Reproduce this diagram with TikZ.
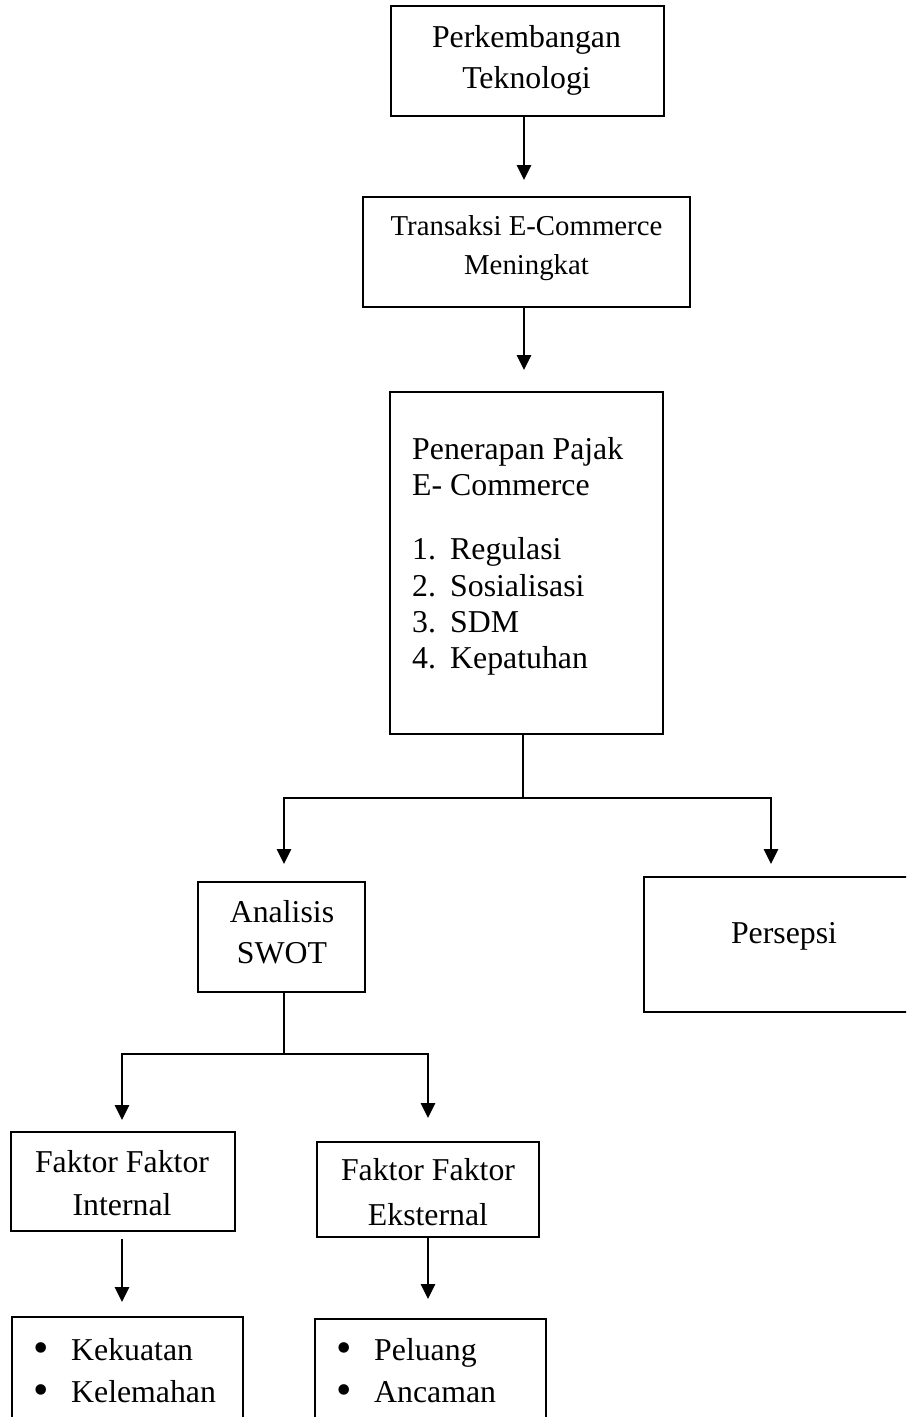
\documentclass[tikz,border=0pt]{standalone}
\usepackage{fontspec}
\setmainfont{Liberation Serif}
\usetikzlibrary{arrows.meta}
\begin{document}
\begin{tikzpicture}[x=1pt,y=-1pt,
  box/.style={draw, line width=2.7pt, inner sep=0pt, outer sep=0pt},
  txt/.style={inner sep=0pt, anchor=base, font=\fontsize{31.8}{36}\selectfont},
  stxt/.style={inner sep=0pt, anchor=base, font=\fontsize{28.8}{33}\selectfont},
  ltxt/.style={inner sep=0pt, anchor=base west, font=\fontsize{31.8}{36}\selectfont},
  bul/.style={inner sep=0pt, anchor=base, font=\fontsize{44}{48}\selectfont},
  ln/.style={line width=2.7pt},
  arr/.style={line width=2.7pt, -{Triangle[length=15pt,width=14pt]}}]
\useasboundingbox (0,0) rectangle (906,1417);
\clip (0,0) rectangle (906,1417);
\fill[white] (0,0) rectangle (906,1417);

% boxes
\node[box, minimum width=273pt, minimum height=110pt] (b1) at (527.5,61) {};
\node[box, minimum width=327pt, minimum height=110pt] (b2) at (526.5,252) {};
\node[box, minimum width=273pt, minimum height=342pt] (b3) at (526.5,563) {};
\node[box, minimum width=167pt, minimum height=110pt] (swot) at (281.5,937) {};
\node[box, minimum width=276pt, minimum height=135pt] (pers) at (782,944.5) {};
\node[box, minimum width=224pt, minimum height=99pt] (fin) at (123,1181.5) {};
\node[box, minimum width=222pt, minimum height=95pt] (fex) at (428,1189.5) {};
\node[box, minimum width=231pt, minimum height=123pt] (bl) at (127.5,1378.5) {};
\node[box, minimum width=231pt, minimum height=121pt] (br) at (430.5,1379.5) {};

% texts
\node[txt] (t1a) at (526.5,47) {Perkembangan};
\node[txt] (t1b) at (526.5,88) {Teknologi};
\node[stxt] (t2a) at (526.5,235) {Transaksi E-Commerce};
\node[stxt] (t2b) at (526.5,274) {Meningkat};
\node[ltxt] (t3a) at (412,459) {Penerapan Pajak};
\node[ltxt] (t3b) at (412,495) {E- Commerce};
\node[ltxt] (n1) at (412,559) {1.};
\node[ltxt] (n2) at (412,596) {2.};
\node[ltxt] (n3) at (412,632) {3.};
\node[ltxt] (n4) at (412,668) {4.};
\node[ltxt] (i1) at (450,559) {Regulasi};
\node[ltxt] (i2) at (450,596) {Sosialisasi};
\node[ltxt] (i3) at (450,632) {SDM};
\node[ltxt] (i4) at (450,668) {Kepatuhan};
\node[txt] (s1) at (282,922) {Analisis};
\node[txt] (s2) at (282,963) {SWOT};
\node[txt] (p1) at (784,943) {Persepsi};
\node[txt] (f1) at (122,1172) {Faktor Faktor};
\node[txt] (f2) at (122,1215) {Internal};
\node[txt] (e1) at (428,1180) {Faktor Faktor};
\node[txt] (e2) at (428,1225) {Eksternal};
\node[bul] (bu1) at (41,1362) {•};
\node[bul] (bu2) at (41,1404) {•};
\node[ltxt] (k1) at (71,1360) {Kekuatan};
\node[ltxt] (k2) at (71,1402) {Kelemahan};
\node[bul] (bu3) at (344,1362) {•};
\node[bul] (bu4) at (344,1404) {•};
\node[ltxt] (q1) at (374,1360) {Peluang};
\node[ltxt] (q2) at (374,1402) {Ancaman};

% connectors
\coordinate (a1) at (524,180);
\draw[arr] (b1.south -| a1) -- (a1);
\coordinate (a2) at (524,370);
\draw[arr] (b2.south -| a2) -- (a2);
\coordinate (j1) at (523,798);
\coordinate (al) at (284,864);
\coordinate (ar) at (771,864);
\draw[ln] (b3.south -| j1) -- (j1);
\draw[arr] (j1) -| (al);
\draw[arr] (j1) -| (ar);
\coordinate (j2) at (284,1054);
\coordinate (fl) at (122,1120);
\coordinate (fr) at (428,1118);
\draw[ln] (swot.south -| j2) -- (j2);
\draw[arr] (j2) -| (fl);
\draw[arr] (j2) -| (fr);
\coordinate (s5) at (122,1239);
\coordinate (a5) at (122,1302);
\draw[arr] (s5) -- (a5);
\coordinate (a6) at (428,1299);
\draw[arr] (fex.south -| a6) -- (a6);
\end{tikzpicture}
\end{document}
